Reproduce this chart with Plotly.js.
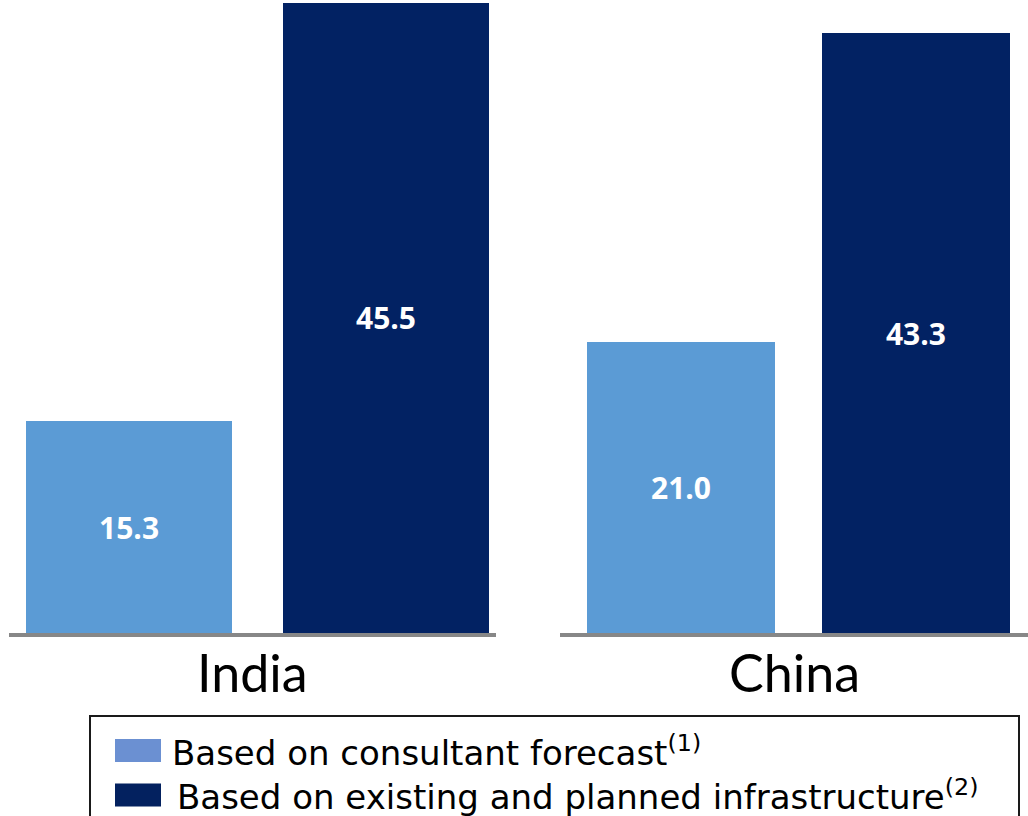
<!DOCTYPE html>
<html>
<head>
<meta charset="utf-8">
<script src="https://cdn.plot.ly/plotly-3.0.1.min.js"></script>
<style>html,body{margin:0;padding:0;background:#fff;}#chart{width:1028px;height:816px;}</style>
</head>
<body>
<div id="chart"></div>
<script>
// ---- data ----
var regions = ["India", "China"];
var seriesKeys = ["consultant", "existing"];
var seriesNames = ["Based on consultant forecast<sup>(1)</sup>", "Based on existing and planned infrastructure<sup>(2)</sup>"];
var consultantForecast = [15.3, 21.0];
var existingPlanned = [45.5, 43.3];
var valueLabels = [["15.3", "45.5"], ["21.0", "43.3"]];

// ---- styles ----
var barColors = ["#5B9BD5", "#022263"];
var legendColors = ["#6B90D2", "#03215F"];
var seriesValues = [consultantForecast, existingPlanned];

var traces = [];
for (var r = 0; r < regions.length; r++) {
  for (var s = 0; s < seriesKeys.length; s++) {
    traces.push({
      type: "bar",
      x: [seriesKeys[s]],
      y: [seriesValues[s][r]],
      text: [valueLabels[r][s]],
      textposition: "inside",
      insidetextanchor: "middle",
      textangle: 0,
      textfont: {family: "Open Sans, sans-serif", size: 30, color: "#ffffff", weight: "bold"},
      width: 0.8,
      marker: {color: barColors[s], line: {width: 0}},
      xaxis: r === 0 ? "x" : "x2",
      yaxis: r === 0 ? "y" : "y2",
      showlegend: false,
      hoverinfo: "skip"
    });
  }
}

var yRange = [0, 45.7];
var axisCommon = {
  showgrid: false, zeroline: false, showticklabels: false, ticks: "",
  showline: true, linecolor: "#878787", linewidth: 4, fixedrange: true
};

var layout = {
  width: 1028, height: 816,
  margin: {l: 0, r: 0, t: 0, b: 183, pad: 0},
  paper_bgcolor: "#ffffff", plot_bgcolor: "#ffffff",
  showlegend: false,
  bargap: 0,
  xaxis: Object.assign({}, axisCommon, {domain: [9/1028, 496/1028], range: [-0.467, 1.428], type: "category", categoryorder: "array", categoryarray: seriesKeys}),
  xaxis2: Object.assign({}, axisCommon, {domain: [560/1028, 1], range: [-0.515, 1.477], type: "category", categoryorder: "array", categoryarray: seriesKeys, anchor: "y2"}),
  yaxis: {domain: [0, 1], range: yRange, visible: false, fixedrange: true},
  yaxis2: {domain: [0, 1], range: yRange, visible: false, fixedrange: true, anchor: "x2"},
  annotations: [],
  shapes: []
};

// region labels under each baseline
var xrefs = ["x domain", "x2 domain"];
for (var r = 0; r < regions.length; r++) {
  layout.annotations.push({
    text: regions[r], xref: xrefs[r], yref: "paper", x: 0.5, y: -0.0615,
    xanchor: "center", yanchor: "middle", showarrow: false,
    font: {family: "Lato, sans-serif", size: 52, color: "#000000"}
  });
}

// hand-drawn legend (box, swatches, labels)
function py(pix) { return (633 - pix) / 633; }
function px(pix) { return pix / 1028; }
layout.shapes.push({type: "rect", xref: "paper", yref: "paper",
  x0: px(90), x1: px(1019), y0: py(716), y1: py(840),
  line: {color: "#1a1a1a", width: 2}, fillcolor: "rgba(0,0,0,0)"});
var rowCenters = [750.5, 795];
var textStarts = [170, 175];
for (var s = 0; s < seriesNames.length; s++) {
  layout.shapes.push({type: "rect", xref: "paper", yref: "paper",
    x0: px(115), x1: px(161), y0: py(rowCenters[s] - 11.5), y1: py(rowCenters[s] + 11.5),
    line: {width: 0}, fillcolor: legendColors[s]});
  layout.annotations.push({
    text: seriesNames[s], xref: "paper", yref: "paper",
    x: px(textStarts[s]), y: py(rowCenters[s]), xanchor: "left", yanchor: "middle",
    showarrow: false,
    font: {family: "DejaVu Sans, sans-serif", size: 34, color: "#000000"}
  });
}

Plotly.newPlot("chart", traces, layout, {staticPlot: true, displayModeBar: false});
</script>
</body>
</html>
